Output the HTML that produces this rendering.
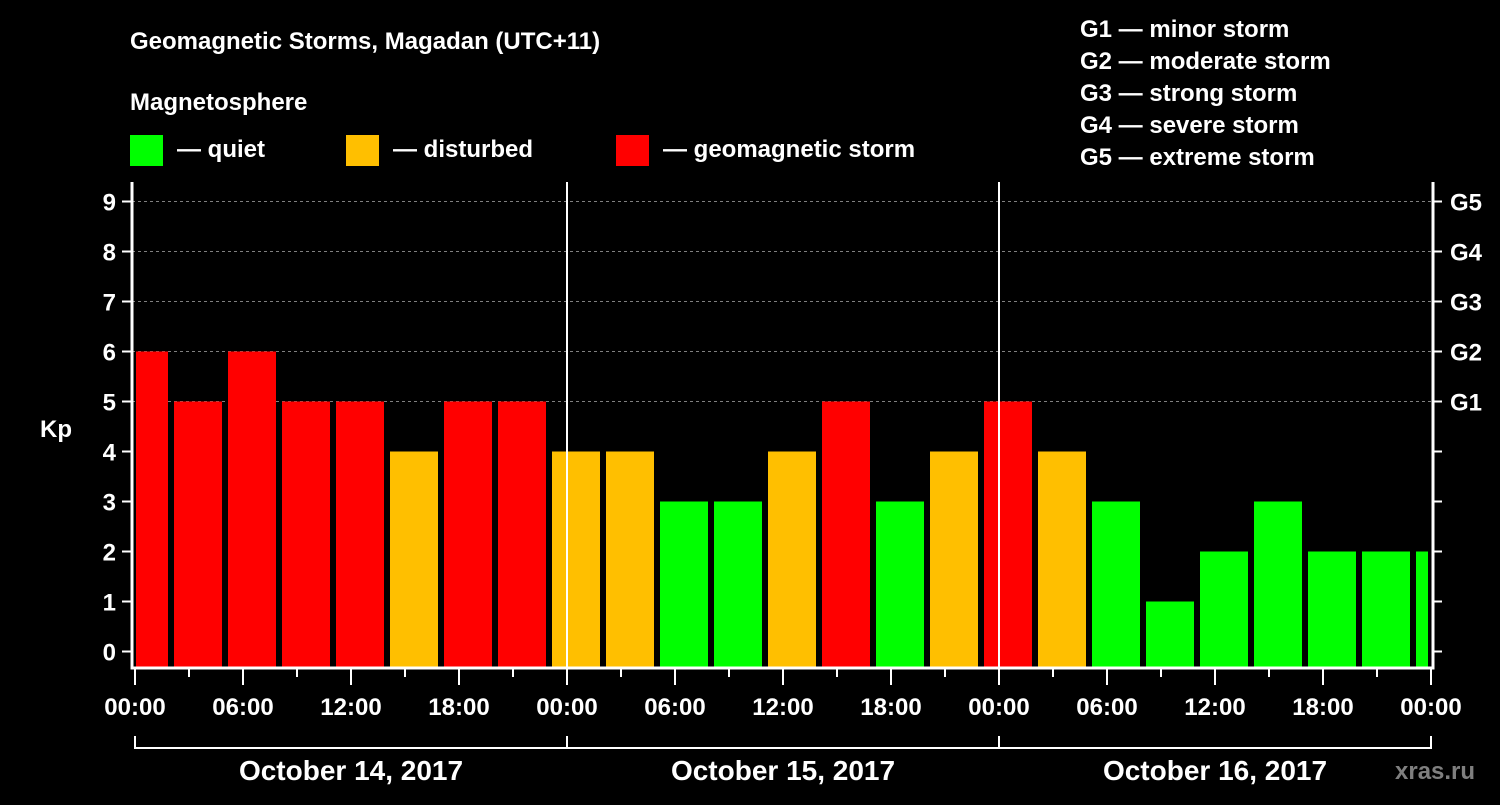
<!DOCTYPE html>
<html><head><meta charset="utf-8"><style>
body{margin:0;background:#000;width:1500px;height:800px;overflow:hidden}
svg text{font-family:"Liberation Sans",sans-serif;font-weight:bold;fill:#fff}
</style></head><body>
<svg id="c" width="1500" height="800">
<text x="130" y="49" font-size="24">Geomagnetic Storms, Magadan (UTC+11)</text>
<text x="130" y="110" font-size="24">Magnetosphere</text>
<g>
<rect x="130" y="135" width="33" height="31" fill="#00ff00"/>
<text x="177" y="157" font-size="24">— quiet</text>
<rect x="346" y="135" width="33" height="31" fill="#ffbf00"/>
<text x="393" y="157" font-size="24">— disturbed</text>
<rect x="616" y="135" width="33" height="31" fill="#ff0000"/>
<text x="663" y="157" font-size="24">— geomagnetic storm</text>
</g>
<g font-size="24">
<text x="1080" y="37">G1 — minor storm</text>
<text x="1080" y="69">G2 — moderate storm</text>
<text x="1080" y="101">G3 — strong storm</text>
<text x="1080" y="133">G4 — severe storm</text>
<text x="1080" y="165">G5 — extreme storm</text>
</g>
<text x="40" y="437" font-size="24">Kp</text>
<text x="1395" y="779" font-size="24" fill="#808080" style="fill:#7f7f7f">xras.ru</text>
<g id="plot"></g>
</svg>
<script>
const kpValues=[6,5,6,5,5,4,5,5,4,4,3,3,4,5,3,4,5,4,3,1,2,3,2,2,2];
const yTicks=[0,1,2,3,4,5,6,7,8,9];
const gLabels=["G1","G2","G3","G4","G5"];
const xTickLabels=["00:00","06:00","12:00","18:00","00:00","06:00","12:00","18:00","00:00","06:00","12:00","18:00","00:00"];
const dayLabels=["October 14, 2017","October 15, 2017","October 16, 2017"];
const firstHour=-1, stepHours=3, totalHours=72;
const X0=135,X1=1431,L=132,R=1433,TOP=182,BOT=668;
const x=h=>X0+(X1-X0)*h/totalHours;
const y=v=>651.5-50*v;
const col=v=>v>=5?"#ff0000":v==4?"#ffbf00":"#00ff00";
const g=document.getElementById('plot');
const NS="http://www.w3.org/2000/svg";
function mk(t,a){const e=document.createElementNS(NS,t);for(const k in a)e.setAttribute(k,a[k]);g.appendChild(e);return e;}
yTicks.forEach(v=>{if(v>=5){const l=mk('line',{x1:L,x2:R,y1:y(v),y2:y(v),stroke:'#808080','stroke-dasharray':'3,3'});

}});
kpValues.forEach((v,i)=>{
 const h0=firstHour+i*stepHours,h1=h0+stepHours;
 let a=x(h0)+3,b=x(h1)-3; a=Math.max(a,136); b=Math.min(b,1428);
 const r=mk('rect',{x:a,y:y(v),width:b-a,height:BOT-1-y(v),fill:col(v)});
 
 
});
[1,2].forEach(d=>{const l=mk('line',{x1:x(d*24),x2:x(d*24),y1:TOP,y2:BOT,stroke:'#fff','stroke-width':2});

});
const ax=mk('path',{d:`M${L} ${TOP}V${BOT}H${R}V${TOP}`,stroke:'#fff','stroke-width':3,fill:'none'});


yTicks.forEach(v=>{
 mk('line',{x1:122,x2:L,y1:y(v),y2:y(v),stroke:'#fff','stroke-width':2});
 mk('line',{x1:R,x2:1442,y1:y(v),y2:y(v),stroke:'#fff','stroke-width':2});
 const t=mk('text',{x:116,y:y(v)+9,'font-size':24,'text-anchor':'end'});t.textContent=v;
 
 
 if(v>=5){const gt=mk('text',{x:1450,y:y(v)+9,'font-size':24});gt.textContent=gLabels[v-5];
 
 }
});
for(let h=0;h<=totalHours;h+=3){const major=h%6==0;
 mk('line',{x1:x(h),x2:x(h),y1:BOT,y2:major?685:677,stroke:'#fff','stroke-width':2});}
xTickLabels.forEach((s,i)=>{const t=mk('text',{x:x(i*6),y:715,'font-size':24,'text-anchor':'middle'});t.textContent=s;
 
 });
mk('line',{x1:x(0),x2:x(72),y1:748,y2:748,stroke:'#fff','stroke-width':2});
[0,1,2,3].forEach(d=>mk('line',{x1:x(d*24),x2:x(d*24),y1:736,y2:749,stroke:'#fff','stroke-width':2}));
dayLabels.forEach((s,i)=>{const t=mk('text',{x:x(i*24+12),y:780,'font-size':28,'text-anchor':'middle'});t.textContent=s;
 
 });
</script>
</body></html>
